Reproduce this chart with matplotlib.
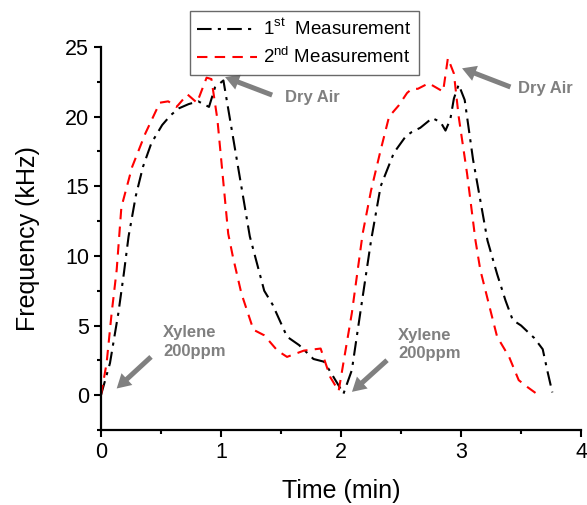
import matplotlib
matplotlib.use("Agg")
import matplotlib.pyplot as plt
from matplotlib import font_manager

plt.rcParams['font.family'] = ['Liberation Sans', 'DejaVu Sans']
plt.rcParams['mathtext.fontset'] = 'custom'
plt.rcParams['mathtext.rm'] = 'Liberation Sans'

# 1st measurement (black, dash-dot)
t1 = [0, 0.075, 0.145, 0.19, 0.23, 0.29, 0.35, 0.42, 0.51, 0.58, 0.65, 0.73,
      0.81, 0.90, 0.95, 1.02, 1.24, 1.36, 1.43, 1.55, 1.65, 1.77, 1.86, 1.97,
      2.02, 2.09, 2.16, 2.25, 2.33, 2.44, 2.54, 2.59, 2.66, 2.76, 2.83, 2.87,
      2.91, 2.94, 2.98, 3.03, 3.10, 3.22, 3.30, 3.37, 3.43, 3.50, 3.61, 3.68,
      3.72, 3.76]
f1 = [0, 2.3, 5.9, 8.7, 11.4, 14.3, 16.4, 18.1, 19.4, 20.1, 20.6, 20.9,
      21.1, 20.7, 22.1, 22.6, 11.4, 7.5, 6.5, 4.2, 3.6, 2.6, 2.4, 0.84,
      0.1, 1.8, 5.9, 11.1, 15.0, 17.4, 18.6, 18.9, 19.2, 19.9, 19.6, 19.0,
      19.8, 21.3, 22.3, 21.2, 16.9, 11.1, 8.7, 6.8, 5.4, 5.0, 4.1, 3.3,
      1.7, 0.2]

# 2nd measurement (red, dashed)
t2 = [0, 0.047, 0.089, 0.131, 0.17, 0.26, 0.37, 0.49, 0.56, 0.63, 0.72, 0.80,
      0.88, 0.92, 0.97, 1.06, 1.10, 1.17, 1.27, 1.36, 1.47, 1.55, 1.69, 1.83,
      1.91, 1.98, 2.09, 2.18, 2.25, 2.33, 2.40, 2.48, 2.55, 2.59, 2.64, 2.73,
      2.79, 2.85, 2.89, 2.94, 2.98, 3.05, 3.12, 3.16, 3.25, 3.30, 3.40, 3.48,
      3.55, 3.63]
f2 = [0, 2.3, 5.9, 9.0, 13.5, 16.4, 18.8, 21.0, 21.1, 20.7, 21.6, 21.0,
      22.8, 22.7, 19.8, 11.6, 9.9, 7.3, 4.7, 4.3, 3.2, 2.75, 3.2, 3.35,
      1.3, 0.3, 5.9, 11.6, 14.7, 17.6, 20.0, 20.8, 21.7, 22.0, 22.0, 22.4,
      22.1, 21.8, 24.2, 23.1, 20.0, 15.9, 11.1, 9.0, 5.9, 4.2, 2.75, 1.08,
      0.6, 0.1]

labels = ['1$^{\\mathrm{st}}$  Measurement', '2$^{\\mathrm{nd}}$ Measurement']

# bold Liberation Sans (avoid the Narrow variant)
bold_font = None
for f in font_manager.fontManager.ttflist:
    if f.name == 'Liberation Sans' and f.weight in (700, 'bold') and f.style == 'normal':
        bold_font = font_manager.FontProperties(fname=f.fname, size=12)
        break
if bold_font is None:
    bold_font = font_manager.FontProperties(family='Liberation Sans', weight='bold', size=12)

fig = plt.figure(figsize=(5.87, 5.05), dpi=100)
ax = fig.add_axes([0.172, 0.1485, 0.818, 0.7584])

ax.plot(t1, f1, color='black', lw=1.5, linestyle=(0, (7, 3, 1.5, 3)), label=labels[0])
ax.plot(t2, f2, color='red', lw=1.5, linestyle=(0, (5, 3.5)), label=labels[1])

ax.set_xlim(0, 4)
ax.set_ylim(-2.5, 25)
ax.set_xticks([0, 1, 2, 3, 4])
ax.set_xticks([0.5, 1.5, 2.5, 3.5], minor=True)
ax.set_yticks([0, 5, 10, 15, 20, 25])
ax.set_yticks([-2.5, 2.5, 7.5, 12.5, 17.5, 22.5], minor=True)
ax.tick_params(which='major', direction='out', length=5, width=1.5, labelsize=15.5)
ax.tick_params(which='minor', direction='out', length=3, width=1.5)
for s in ['top', 'right']:
    ax.spines[s].set_visible(False)
for s in ['left', 'bottom']:
    ax.spines[s].set_linewidth(1.6)

ax.set_xlabel('Time (min)', fontsize=18, labelpad=12)
ax.set_ylabel('Frequency (kHz)', fontsize=18, labelpad=18)

leg = ax.legend(loc='upper left', bbox_to_anchor=(0.185, 1.093), borderaxespad=0,
                fontsize=13.5, frameon=True, fancybox=False, handlelength=3.2,
                handletextpad=0.3, borderpad=0.4, labelspacing=0.4)
leg.get_frame().set_edgecolor('#444444')
leg.get_frame().set_linewidth(1.0)

grey = '#808080'
arrow = dict(facecolor=grey, edgecolor='none', width=3.6, headwidth=11.5,
             headlength=10, shrink=0)
ax.annotate('', xy=(1.034, 22.84), xytext=(1.426, 21.55), arrowprops=arrow)
ax.annotate('', xy=(3.008, 23.47), xytext=(3.411, 22.13), arrowprops=arrow)
ax.annotate('', xy=(0.131, 0.48), xytext=(0.417, 2.75), arrowprops=arrow)
ax.annotate('', xy=(2.091, 0.24), xytext=(2.383, 2.51), arrowprops=arrow)

tkw = dict(color=grey, fontproperties=bold_font, ha='left', va='center')
ax.text(1.535, 21.4, 'Dry Air', **tkw)
ax.text(3.47, 22.0, 'Dry Air', **tkw)
ax.text(0.517, 3.84, 'Xylene\n200ppm', linespacing=1.3, **tkw)
ax.text(2.477, 3.63, 'Xylene\n200ppm', linespacing=1.3, **tkw)

fig.savefig('out.png', dpi=100)
